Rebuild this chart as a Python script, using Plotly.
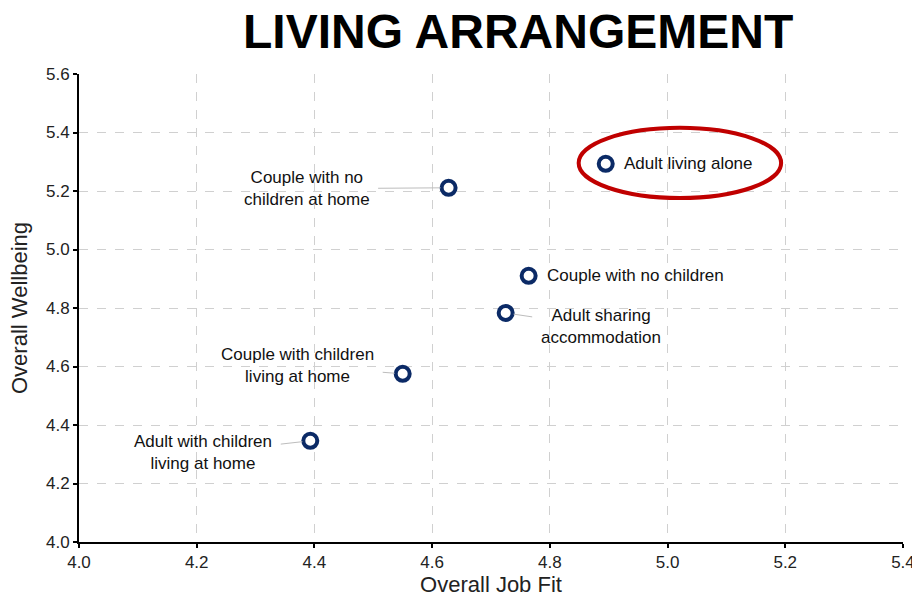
import plotly.graph_objects as go

groups = ["Adult living alone", "Couple with no children at home", "Couple with no children",
          "Adult sharing accommodation", "Couple with children living at home",
          "Adult with children living at home"]
labels = ["Adult living alone", "Couple with no<br>children at home", "Couple with no children",
          "Adult sharing<br>accommodation", "Couple with children<br>living at home",
          "Adult with children<br>living at home"]
job_fit = [4.895, 4.628, 4.764, 4.725, 4.550, 4.393]
wellbeing = [5.293, 5.211, 4.910, 4.783, 4.575, 4.346]
x_ticks = [4.0, 4.2, 4.4, 4.6, 4.8, 5.0, 5.2, 5.4]
y_ticks = [4.0, 4.2, 4.4, 4.6, 4.8, 5.0, 5.2, 5.4, 5.6]

navy = "#0b2a66"
font = "Liberation Sans, Arial, sans-serif"

fig = go.Figure()
fig.add_trace(go.Scatter(
    x=job_fit, y=wellbeing, mode="markers", text=groups,
    marker=dict(symbol="circle", size=14, color="white", line=dict(color=navy, width=4)),
    hoverinfo="text", showlegend=False, cliponaxis=False))

# label offsets (pixels) and arrow flags
offsets = [(16, 0, False), (-142, 1, True), (16, 0, False),
           (95, 14, True), (-105, -8, True), (-107, 12, True)]
for lab, x, y, (ax, ay, arr) in zip(labels, job_fit, wellbeing, offsets):
    if arr:
        fig.add_annotation(x=x, y=y, text=lab, showarrow=True, ax=ax, ay=ay,
                           arrowhead=0, arrowwidth=1, arrowcolor="#bdbdbd", standoff=8,
                           borderpad=8, font=dict(size=17, color="#111", family=font), align="center")
    else:
        fig.add_annotation(x=x, y=y, text=lab, showarrow=False, xanchor="left",
                           xshift=ax, yshift=ay, font=dict(size=17, color="#111", family=font))

# highlight ellipse around the top point
fig.add_shape(type="circle", xref="x", yref="y",
              x0=job_fit[0] - 0.046, x1=job_fit[0] + 0.298,
              y0=wellbeing[0] - 0.117, y1=wellbeing[0] + 0.123,
              line=dict(color="#c00000", width=4))

fig.add_annotation(text="<b>LIVING ARRANGEMENT</b>", xref="paper", yref="paper",
                   x=0.533, y=1.0, yshift=43, yanchor="middle", showarrow=False,
                   font=dict(size=48, color="#000", family=font), xanchor="center")

axis_common = dict(showline=True, linecolor="black", linewidth=2, ticks="outside",
                   ticklen=4, tickcolor="black", tickwidth=2, showgrid=True,
                   gridcolor="#d0d0d0", griddash="dash", gridwidth=1, zeroline=False,
                   tickfont=dict(size=17, color="#222", family=font), mirror=False,
                   automargin=False, ticklabeloverflow="allow")

fig.update_layout(
    width=912, height=597, plot_bgcolor="white", paper_bgcolor="white",
    margin=dict(l=79, r=9, t=74, b=55),
    xaxis=dict(range=[4.0, 5.4001], tickvals=x_ticks, ticktext=[f"{v:.1f}" for v in x_ticks],
               title=dict(text="Overall Job Fit", font=dict(size=22, color="#222", family=font), standoff=12),
               **axis_common),
    yaxis=dict(range=[4.0, 5.60001], tickvals=y_ticks, ticktext=[f"{v:.1f}" for v in y_ticks],
               title=dict(text="Overall Wellbeing", font=dict(size=22, color="#222", family=font), standoff=12),
               **axis_common),
)

fig.write_html("out.html", config={"displayModeBar": False},
               post_script="document.body.style.margin='0';document.body.style.overflow='hidden';")
